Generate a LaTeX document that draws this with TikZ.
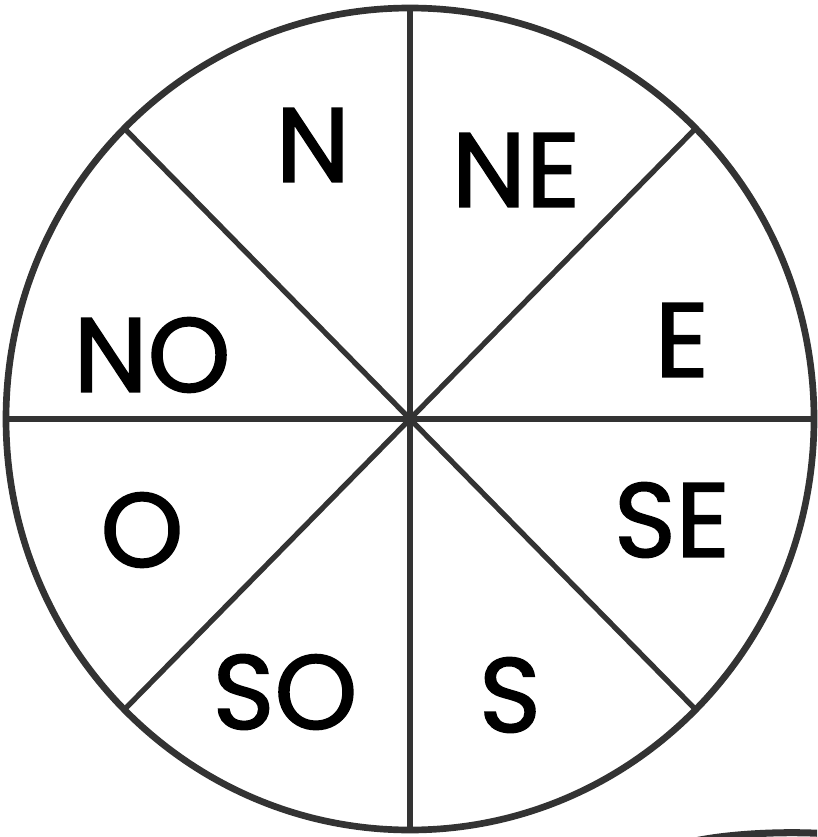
\documentclass[tikz,border=0pt]{standalone}
\usepackage{fontspec}
\newfontfamily\rotulo[FakeBold=1.6]{Poppins}
\usetikzlibrary{calc}
\definecolor{trazo}{rgb}{0.2,0.2,0.2}
\tikzset{
  rueda/.style={
    draw=trazo,
    line width=3.8pt
  },
  radio/.style={
    draw=trazo,
    line width=3pt
  },
  punto/.style={
    text=black,
    inner sep=0pt,
    font=\rotulo\fontsize{60}{64}\selectfont
  }
}
\begin{document}
\begin{tikzpicture}[x=0.02cm,y=-0.02cm]
\useasboundingbox (0,0) rectangle (817,837);
\coordinate (c) at (410,419);
% rueda
\draw[rueda] (c) ellipse [x radius=404, y radius=411];
\foreach \ang in {0,45,...,315}
  \draw[radio] (c) -- ($(c)+({404*cos(\ang)},{411*sin(\ang)})$);
% borde de otra figura abajo
\begin{scope}
\clip (0,0) rectangle (817,837);
\draw[draw=trazo,line width=4pt] (690,842) .. controls (730,833) and (790,831) .. (830,834);
\end{scope}
% puntos cardinales
\node[punto] (n)  at (313,145) {N};
\node[punto] (ne) at (516,170) {NE};
\node[punto] (e)  at (682,340) {E};
\node[punto] (no) at (152,355) {NO};
\node[punto] (o)  at (142,530) {O};
\node[punto] (se) at (672,520) {SE};
\node[punto] (so) at (285,692) {SO};
\node[punto] (s)  at (510,695) {S};
\end{tikzpicture}
\end{document}
